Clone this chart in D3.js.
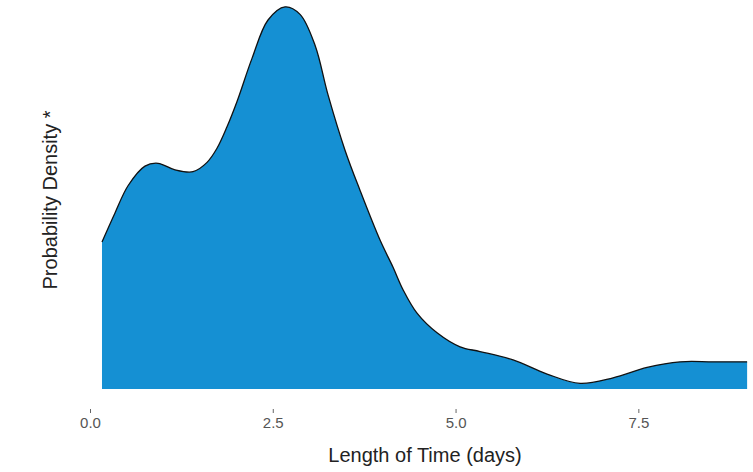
<!DOCTYPE html>
<html>
<head>
<meta charset="utf-8">
<script src="https://cdn.jsdelivr.net/npm/d3@7"></script>
<style>
  body { margin: 0; background: #fff; }
  svg { display: block; }
</style>
</head>
<body>
<svg width="753" height="472"></svg>
<script>
/* density estimate */

let days = [0.164, 0.342, 0.520, 0.752, 0.930, 1.163, 1.409, 1.601, 1.737, 1.874, 2.011, 2.216, 2.435, 2.668,
  2.873, 3.078, 3.256, 3.488, 3.694, 3.967, 4.145, 4.282, 4.473, 4.747, 5.062, 5.335, 5.787, 6.252, 6.703,
  7.155, 7.620, 8.071, 8.523, 8.988];
let density = [0.157, 0.188, 0.217, 0.238, 0.241, 0.234, 0.232, 0.242, 0.257, 0.280, 0.307, 0.353, 0.394, 0.408,
  0.400, 0.367, 0.314, 0.255, 0.212, 0.159, 0.130, 0.106, 0.081, 0.060, 0.045, 0.040, 0.031, 0.016, 0.006,
  0.012, 0.023, 0.029, 0.029, 0.029];
let xTicks = [0, 2.5, 5, 7.5];

let data = days.map((d, i) => ({ x: d, y: density[i] }));

let svg = d3.select("svg");

let x = d3.scaleLinear()
  .domain([0, 9])
  .range([90, 748]);

let y = d3.scaleLinear()
  .domain([0, 0.41])
  .range([389, 5]);

let smooth = d3.curveCatmullRom.alpha(0.5);

let area = d3.area()
  .curve(smooth)
  .x(d => x(d.x))
  .y0(y(0))
  .y1(d => y(d.y));

let line = d3.line()
  .curve(smooth)
  .x(d => x(d.x))
  .y(d => y(d.y));

svg.append("path")
  .datum(data)
  .attr("d", area)
  .attr("fill", "#1590d3");

svg.append("path")
  .datum(data)
  .attr("d", line)
  .attr("fill", "none")
  .attr("stroke", "#111")
  .attr("stroke-width", 1.3);

let xAxis = svg.append("g")
  .attr("transform", "translate(0,409)")
  .call(d3.axisBottom(x)
    .tickValues(xTicks)
    .tickFormat(d3.format(".1f"))
    .tickSize(4)
    .tickPadding(4));

xAxis.select(".domain").remove();
xAxis.selectAll(".tick line").attr("stroke", "#666");
xAxis.selectAll("text")
  .attr("fill", "#555")
  .style("font-family", "'Liberation Sans Narrow', 'Liberation Sans', sans-serif")
  .style("font-size", "15px");

svg.append("text")
  .text("Length of Time (days)")
  .attr("x", 425)
  .attr("y", 462)
  .attr("text-anchor", "middle")
  .attr("fill", "#222")
  .style("font-family", "'Liberation Sans', Arial, sans-serif")
  .style("font-size", "20px");

svg.append("text")
  .text("Probability Density *")
  .attr("transform", "translate(57,200) rotate(-90)")
  .attr("text-anchor", "middle")
  .attr("fill", "#222")
  .style("font-family", "'Liberation Sans', Arial, sans-serif")
  .style("font-size", "20px");
</script>
</body>
</html>
